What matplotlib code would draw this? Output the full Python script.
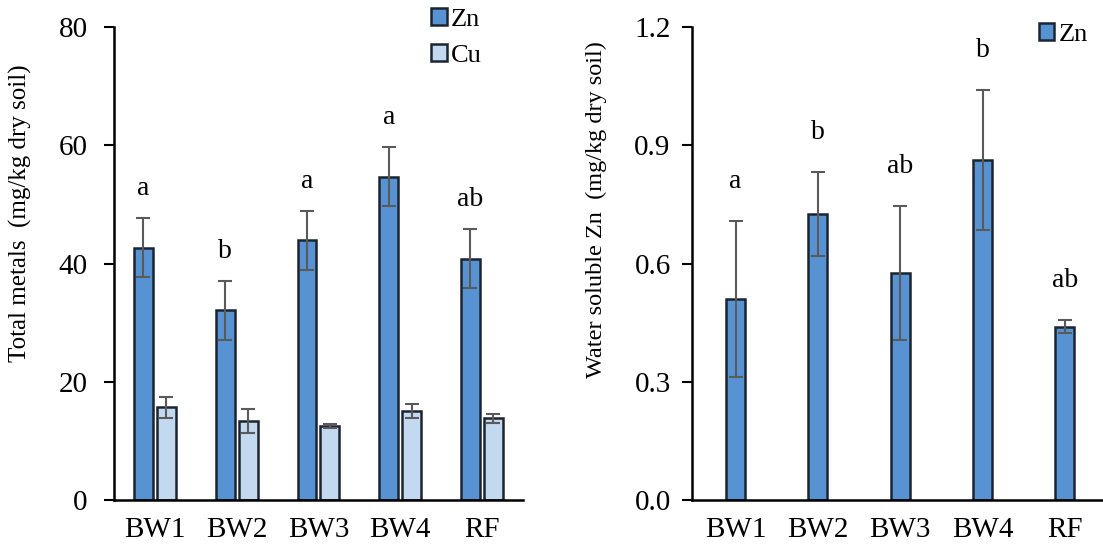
import matplotlib.pyplot as plt
import numpy as np

plt.rcParams['font.family'] = ['Liberation Serif', 'DejaVu Serif']

sites = ["BW1", "BW2", "BW3", "BW4", "RF"]

# total metals (mg/kg dry soil)
zn_total = [42.7, 32.1, 43.9, 54.7, 40.8]
zn_total_err = [5.0, 5.0, 5.0, 5.0, 5.0]
cu_total = [15.7, 13.4, 12.5, 15.1, 13.8]
cu_total_err = [1.8, 2.0, 0.4, 1.2, 0.8]
letters_total = ["a", "b", "a", "a", "ab"]

# water soluble Zn (mg/kg dry soil)
zn_ws = [0.51, 0.725, 0.575, 0.862, 0.44]
zn_ws_err = [0.197, 0.107, 0.17, 0.178, 0.017]
letters_ws = ["a", "b", "ab", "b", "ab"]

zn_col = "#5793d3"
cu_col = "#c3d9ef"
edge = "#1c2430"
err_kw = dict(ecolor="#5a5a5a", elinewidth=1.5, capsize=5, capthick=1.5)

fig = plt.figure(figsize=(11.03, 5.48), dpi=100)
ax1 = fig.add_axes([0.1034, 0.0876, 0.3706, 0.863])
ax2 = fig.add_axes([0.627, 0.0876, 0.372, 0.863])

x = np.arange(len(sites))
w = 0.23
off = 0.14

ax1.bar(x - off, zn_total, w, yerr=zn_total_err, color=zn_col,
        edgecolor=edge, linewidth=1.8, error_kw=err_kw, label="Zn")
ax1.bar(x + off, cu_total, w, yerr=cu_total_err, color=cu_col,
        edgecolor=edge, linewidth=1.8, error_kw=err_kw, label="Cu")
for i in range(len(sites)):
    ax1.text(x[i] - off, zn_total[i] + zn_total_err[i] + 5, letters_total[i],
             ha="center", va="center", fontsize=20)

ax1.set_ylim(0, 80)
ax1.set_yticks([0, 20, 40, 60, 80])
ax1.set_xlim(-0.5, 4.5)
ax1.set_ylabel("Total metals  (mg/kg dry soil)", fontsize=18)
ax1.yaxis.set_label_coords(-0.2, 0.607)
ax1.legend(loc="upper left", bbox_to_anchor=(0.75, 1.062), frameon=False,
           fontsize=19, handlelength=0.6, handleheight=0.6,
           handletextpad=0.15, labelspacing=0.5, borderaxespad=0)

ax2.bar(x, zn_ws, w, yerr=zn_ws_err, color=zn_col, edgecolor=edge,
        linewidth=1.8, error_kw=err_kw, label="Zn")
for i in range(len(sites)):
    ax2.text(x[i], zn_ws[i] + zn_ws_err[i] + 0.1, letters_ws[i],
             ha="center", va="center", fontsize=20)

ax2.set_ylim(0, 1.2)
ax2.set_yticks([0, 0.3, 0.6, 0.9, 1.2])
ax2.set_yticklabels(["0.0", "0.3", "0.6", "0.9", "1.2"])
ax2.set_xlim(-0.535, 4.45)
ax2.set_ylabel("Water soluble Zn  (mg/kg dry soil)", fontsize=17.5)
ax2.yaxis.set_label_coords(-0.206, 0.615)
ax2.legend(loc="upper left", bbox_to_anchor=(0.82, 1.03), frameon=False,
           fontsize=19, handlelength=0.6, handleheight=0.6,
           handletextpad=0.15, borderaxespad=0)

for ax in (ax1, ax2):
    ax.set_xticks(x)
    ax.set_xticklabels(sites)
    ax.spines["top"].set_visible(False)
    ax.spines["right"].set_visible(False)
    ax.spines["left"].set_linewidth(1.8)
    ax.spines["bottom"].set_linewidth(1.8)
    ax.tick_params(axis="y", labelsize=21, length=7, width=1.5, pad=8)
    ax.tick_params(axis="x", labelsize=21, length=0, pad=12)
ax1.tick_params(axis="y", pad=12)

fig.savefig("out.png", dpi=100)
